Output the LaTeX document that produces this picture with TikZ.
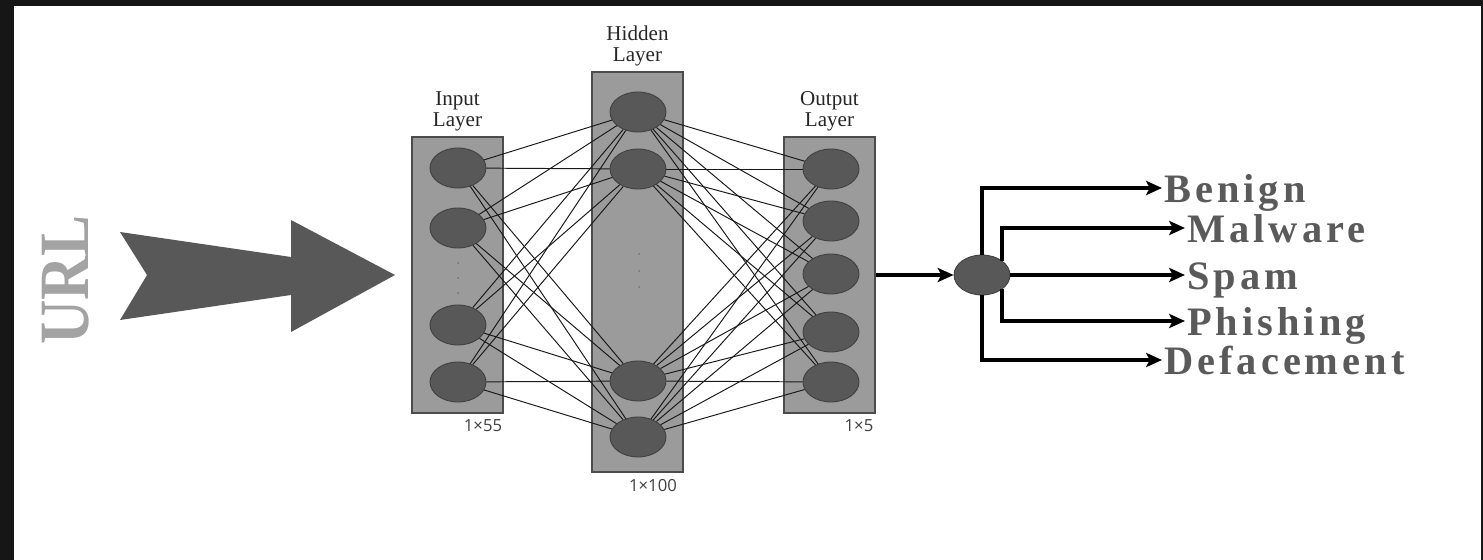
\documentclass[tikz,border=0pt]{standalone}
\usepackage{fontspec}
\setmainfont{Liberation Serif}
\newfontfamily\classfont[LetterSpace=10]{Liberation Serif}
\newfontfamily\dimfont{Open Sans}
\usetikzlibrary{arrows.meta,positioning,shapes.geometric}
\definecolor{framegray}{HTML}{161616}
\definecolor{boxgray}{HTML}{9B9B9B}
\definecolor{neurongray}{HTML}{585858}
\definecolor{classgray}{HTML}{5A5A5A}
\definecolor{urlgray}{HTML}{A3A3A3}

\begin{document}
\begin{tikzpicture}[x=0.02cm, y=-0.02cm,
  layer/.style={draw=black!70, fill=boxgray, line width=0.8pt, minimum width=1.82cm, inner sep=0pt},
  neuron/.style={ellipse, draw=black!75, fill=neurongray, line width=0.5pt, minimum width=1.12cm, minimum height=0.8cm, inner sep=0pt},
  layername/.style={align=center, text=black!85, font=\fontsize{12}{11.5}\selectfont, inner sep=0pt},
  dimlabel/.style={text=black!75, font=\dimfont\fontsize{9.5}{9.5}\selectfont},
  link/.style={draw=black!90, line width=0.55pt},
  outarrow/.style={line width=2.3pt, -{Stealth[length=9pt,width=8pt,inset=2pt]}},
  classname/.style={anchor=west, inner sep=1pt, text height=16pt, text depth=0pt, text=classgray, font=\classfont\bfseries\fontsize{23}{23}\selectfont}]

% frame and page
\fill[framegray] (0,0) rectangle (1483,560);
\fill[white] (14,6) rectangle (1481,560);

% URL and big arrow
\node[rotate=90, text=urlgray, font=\bfseries\fontsize{35}{35}\selectfont, yscale=1.15] (url) at (66,280) {URL};
\fill[neurongray] (120,232) -- (291,257) -- (291,220) -- (395,275) -- (291,332) -- (291,295) -- (120,320) -- (147,275) -- cycle;

% layer boxes
\node[layer, minimum height=5.52cm] (inbox) at (457.5,275) {};
\node[layer, minimum height=8cm] (hidbox) at (637.5,272) {};
\node[layer, minimum height=5.52cm] (outbox) at (829.5,275) {};

\node[layername, above=3pt of inbox] {Input\\Layer};
\node[layername, above=3pt of hidbox] {Hidden\\Layer};
\node[layername, above=3pt of outbox] {Output\\Layer};

\node[dimlabel] at (483,426) {1×55};
\node[dimlabel] at (653,486) {1×100};
\node[dimlabel] at (859,426) {1×5};

% neurons
\foreach \n/\y in {1/168,2/228,3/325,4/382}
  \node[neuron] (i\n) at (458,\y) {};
\foreach \n/\y in {1/112,2/169,3/381,4/437}
  \node[neuron] (h\n) at (638,\y) {};
\foreach \n/\y in {1/169,2/221,3/274,4/332,5/382}
  \node[neuron] (o\n) at (831,\y) {};

\foreach \y in {263,278,293}
  \fill[black!55] (458,\y) circle (1);
\foreach \y in {254,271,287}
  \fill[black!55] (639,\y) circle (1);

% fully connected links
\foreach \a in {1,...,4}
  \foreach \b in {1,...,4}
    \draw[link] (i\a) -- (h\b);
\foreach \a in {1,...,4}
  \foreach \b in {1,...,5}
    \draw[link] (h\a) -- (o\b);

% classifier
\node[neuron] (fin) at (982,275) {};
\draw[outarrow] (outbox.east) -- (fin.west);

\node[classname] (benign) at (1162,188) {Benign};
\node[classname] (malware) at (1185,228) {Malware};
\node[classname] (spam) at (1185,275) {Spam};
\node[classname] (phishing) at (1185,321) {Phishing};
\node[classname] (deface) at (1162,360) {Defacement};

\draw[outarrow] (fin.north) |- (benign.west);
\draw[outarrow] (fin.35) |- (malware.west);
\draw[outarrow] (fin.east) -- (spam.west);
\draw[outarrow] (fin.-35) |- (phishing.west);
\draw[outarrow] (fin.south) |- (deface.west);

\end{tikzpicture}
\end{document}
